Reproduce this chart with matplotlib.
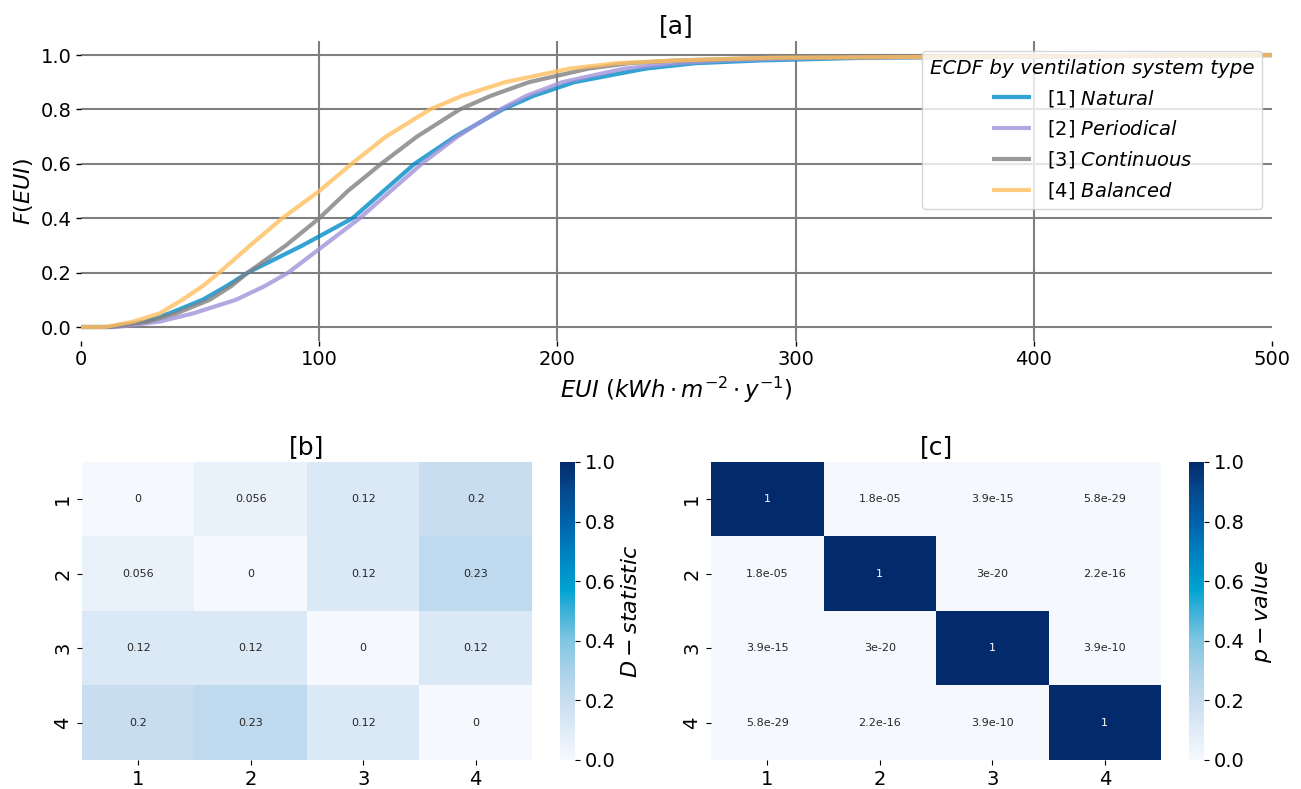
import numpy as np
import matplotlib
matplotlib.use("Agg")
import matplotlib.pyplot as plt
from matplotlib.colors import LinearSegmentedColormap

plt.rcParams['font.family'] = ['DejaVu Sans']

# ---------------- data ----------------
ecdf_levels = [0, 0, 0.02, 0.05, 0.1, 0.15, 0.2, 0.3, 0.4, 0.5, 0.6, 0.7, 0.8,
               0.85, 0.9, 0.95, 0.97, 0.98, 0.99, 1.0]
eui_natural = [0, 12, 27, 37, 51, 61, 70, 93, 114, 127, 140, 157, 177, 190, 207,
               237, 258, 285, 330, 500]
eui_periodical = [0, 15, 33, 47, 65, 77, 87, 102, 117, 130, 143, 158, 176, 187,
                  202, 228, 250, 270, 310, 500]
eui_continuous = [0, 12, 28, 40, 54, 63, 70, 86, 100, 112, 126, 141, 159, 172,
                  188, 213, 230, 250, 290, 500]
eui_balanced = [0, 10, 22, 33, 42.5, 51, 58, 71, 84.5, 100, 113.6, 128, 146.5,
                160, 178, 205, 225, 250, 290, 500]

series_labels = ["[1] $\\it{Natural}$", "[2] $\\it{Periodical}$",
                 "[3] $\\it{Continuous}$", "[4] $\\it{Balanced}$"]
series_colors = ["#008cc8", "#a192d9", "#808080", "#ffbf5f"]

groups = ["1", "2", "3", "4"]
d_stat = [[0, 0.056, 0.12, 0.2],
          [0.056, 0, 0.12, 0.23],
          [0.12, 0.12, 0, 0.12],
          [0.2, 0.23, 0.12, 0]]
p_value = [[1, 1.8e-05, 3.9e-15, 5.8e-29],
           [1.8e-05, 1, 3e-20, 2.2e-16],
           [3.9e-15, 3e-20, 1, 3.9e-10],
           [5.8e-29, 2.2e-16, 3.9e-10, 1]]

# ---------------- figure ----------------
fig = plt.figure(figsize=(13.01, 7.89), dpi=100)

cmap = LinearSegmentedColormap.from_list(
    "custom_blues",
    [(0.0, "#f5f9fe"), (0.1, "#dfebf7"), (0.2, "#c8ddf0"), (0.3, "#a9d2e8"),
     (0.4, "#80c6e0"), (0.5, "#3cb0d8"), (0.57, "#00a4d1"), (0.7, "#0080bf"),
     (0.8, "#0062aa"), (0.9, "#064a8f"), (1.0, "#032b6b")])

# ---- [a] ECDF ----
ax = fig.add_axes([0.0623, 0.5683, 0.9154, 0.3792])
all_eui = [eui_natural, eui_periodical, eui_continuous, eui_balanced]
for xs, lab, col in zip(all_eui, series_labels, series_colors):
    ax.plot(xs, ecdf_levels, color=col, lw=3, alpha=0.8, label=lab,
            solid_capstyle='butt')
ax.set_xlim(0, 500)
ax.set_ylim(-0.05, 1.05)
ax.set_xticks([0, 100, 200, 300, 400, 500])
ax.set_yticks([0.0, 0.2, 0.4, 0.6, 0.8, 1.0])
ax.grid(True, color="#7f7f7f", lw=1.5)
ax.set_axisbelow(True)
gl = ax.xaxis.get_gridlines()
gl[0].set_visible(False)
gl[-1].set_visible(False)
for s in ax.spines.values():
    s.set_visible(False)
ax.tick_params(labelsize=14, length=3.5, width=1)
ax.set_xlabel("$EUI\\ (kWh \\cdot m^{-2} \\cdot y^{-1})$", fontsize=16.5)
ax.set_ylabel("$F(EUI)$", fontsize=16)
ax.set_title("[a]", fontsize=18)
leg = ax.legend(loc="upper right", fontsize=14,
                title="ECDF by ventilation system type",
                title_fontproperties={'style': 'italic', 'size': 14.3})


def heat(pos, cpos, data, fmt, title, clabel):
    hax = fig.add_axes(pos)
    cax = fig.add_axes(cpos)
    arr = np.array(data, dtype=float)
    mesh = hax.pcolormesh(arr, cmap=cmap, vmin=0, vmax=1)
    hax.set_xlim(0, 4)
    hax.set_ylim(4, 0)
    for s in hax.spines.values():
        s.set_visible(False)
    hax.set_xticks(np.arange(4) + 0.5)
    hax.set_xticklabels(groups)
    hax.set_yticks(np.arange(4) + 0.5)
    hax.set_yticklabels(groups, rotation=90, va="center")
    hax.tick_params(labelsize=14, length=3.5)
    hax.set_title(title, fontsize=18)
    for i in range(4):
        for j in range(4):
            v = arr[i, j]
            col = "white" if v > 0.6 else "#262626"
            hax.text(j + 0.5, i + 0.5, format(v, fmt), ha="center",
                     va="center", fontsize=8, color=col)
    cb = fig.colorbar(mesh, cax=cax)
    cb.outline.set_linewidth(0)
    cb.set_ticks([0, 0.2, 0.4, 0.6, 0.8, 1.0])
    cb.ax.tick_params(labelsize=14, length=3.5)
    cb.set_label(clabel, fontsize=16)


heat([0.0630, 0.0368, 0.3459, 0.3777], [0.4304, 0.0368, 0.0115, 0.3777],
     d_stat, ".2g", "[b]", "$D-statistic$")
heat([0.5465, 0.0368, 0.3459, 0.3777], [0.9139, 0.0368, 0.0115, 0.3777],
     p_value, ".2g", "[c]", "$p-value$")

fig.savefig("out.png", dpi=100)
